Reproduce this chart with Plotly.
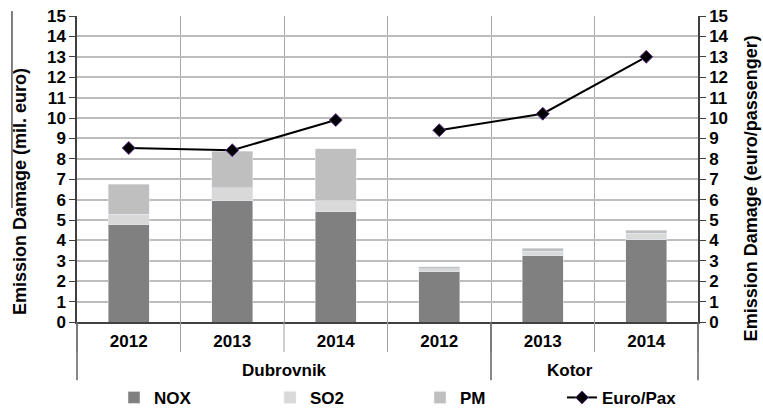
import plotly.graph_objects as go

# Emission damage by port and year
ports = ["Dubrovnik", "Dubrovnik", "Dubrovnik", "Kotor", "Kotor", "Kotor"]
years = ["2012", "2013", "2014", "2012", "2013", "2014"]
nox = [4.77, 5.95, 5.40, 2.47, 3.25, 4.02]
so2 = [0.50, 0.63, 0.55, 0.13, 0.21, 0.32]
pm = [1.49, 1.80, 2.55, 0.12, 0.15, 0.15]
euro_pax = [8.53, 8.42, 9.90, 9.40, 10.21, 13.00]

# Group labels under the year row, with the span each covers (in categories)
group_labels = ["Dubrovnik", "Kotor"]
group_spans = [4, 2]

cats = [f"{p} {y}" for p, y in zip(ports, years)]
font = "Liberation Sans, Arial, sans-serif"
bold17 = dict(family=font, size=17, color="black", weight="bold")
bold18 = dict(family=font, size=18, color="black", weight="bold")

fig = go.Figure()
fig.add_trace(go.Bar(x=cats, y=nox, name="NOX", marker_color="#808080",
                     legend="legend"))
fig.add_trace(go.Bar(x=cats, y=so2, name="SO2", marker_color="#d9d9d9",
                     legend="legend2"))
fig.add_trace(go.Bar(x=cats, y=pm, name="PM", marker_color="#bfbfbf",
                     legend="legend3"))

# Euro per passenger, one line per port
for i, port in enumerate(["Dubrovnik", "Kotor"]):
    idx = [k for k, p in enumerate(ports) if p == port]
    fig.add_trace(go.Scatter(
        x=[cats[k] for k in idx], y=[euro_pax[k] for k in idx],
        name="Euro/Pax", yaxis="y2", mode="lines+markers",
        line=dict(color="black", width=2),
        marker=dict(symbol="diamond", size=10, color="black",
                    line=dict(color="#6a3d9a", width=1)),
        showlegend=(i == 0), legendgroup="pax", legend="legend4",
    ))

n = len(cats)
shapes = []
# short separators between the year labels
for b in range(n + 1):
    shapes.append(dict(type="line", xref="paper", yref="paper",
                       x0=b / n, x1=b / n, y0=0, y1=-0.098,
                       line=dict(color="#a0a0a0", width=1)))
# long dividers between the port groups
edge = 0
bounds = [0]
for s in group_spans:
    edge += s
    bounds.append(edge)
for b in bounds:
    shapes.append(dict(type="line", xref="paper", yref="paper",
                       x0=b / n, x1=b / n, y0=0, y1=-0.19,
                       line=dict(color="#606060", width=1.5)))
# stray rule beside the left axis title
shapes.append(dict(type="line", xref="paper", yref="paper",
                   x0=-0.1047, x1=-0.1047, y0=1.016, y1=0.3725,
                   line=dict(color="black", width=1)))

annotations = []
start = 0
for lab, s in zip(group_labels, group_spans):
    annotations.append(dict(text=lab, xref="paper", yref="paper",
                            x=(start + s / 2) / n, y=-0.157, showarrow=False,
                            font=bold17, yanchor="middle"))
    start += s

# axis titles
annotations.append(dict(text="Emission Damage (mil. euro)", textangle=-90,
                        xref="paper", yref="paper", x=-0.0918, y=0.428,
                        xanchor="center", yanchor="middle", showarrow=False,
                        font=bold18))
annotations.append(dict(text="Emission Damage (euro/passenger)", textangle=-90,
                        xref="paper", yref="paper", x=1.086, y=0.438,
                        xanchor="center", yanchor="middle", showarrow=False,
                        font=bold18))


def legend_at(xpx):
    return dict(orientation="h", x=(xpx - 77) / 621, xanchor="left",
                y=-0.248, yanchor="middle", font=bold17,
                bgcolor="rgba(0,0,0,0)")


fig.update_layout(
    width=763, height=411,
    margin=dict(l=77, r=65, t=16, b=89, autoexpand=False),
    paper_bgcolor="white", plot_bgcolor="white",
    barmode="stack", bargap=0.6, showlegend=True,
    font=dict(family=font, size=17, color="black"),
    xaxis=dict(
        type="category", tickmode="array", tickvals=cats, ticktext=years,
        tickson="boundaries", ticks="", automargin=False, ticklabelstandoff=3,
        showgrid=True, gridcolor="#a8a8a8", gridwidth=1,
        showline=True, linecolor="#404040", linewidth=1.5,
        tickfont=bold17,
    ),
    yaxis=dict(
        range=[0, 15], dtick=1, ticks="outside", ticklen=6, tickcolor="#404040",
        showline=True, linecolor="#404040", linewidth=1.5, automargin=False,
        showgrid=True, gridcolor="#bdbdbd", gridwidth=1.5, zeroline=False,
        tickfont=bold17,
    ),
    yaxis2=dict(
        range=[0, 15], dtick=1, overlaying="y", side="right",
        ticks="outside", ticklen=6, tickcolor="#404040", automargin=False,
        showline=True, linecolor="#404040", linewidth=1.5,
        showgrid=False, zeroline=False,
        tickfont=bold17,
    ),
    legend=legend_at(114),
    legend2=legend_at(270),
    legend3=legend_at(420),
    legend4=legend_at(562),
    shapes=shapes, annotations=annotations,
)

fig.write_html("out.html")
